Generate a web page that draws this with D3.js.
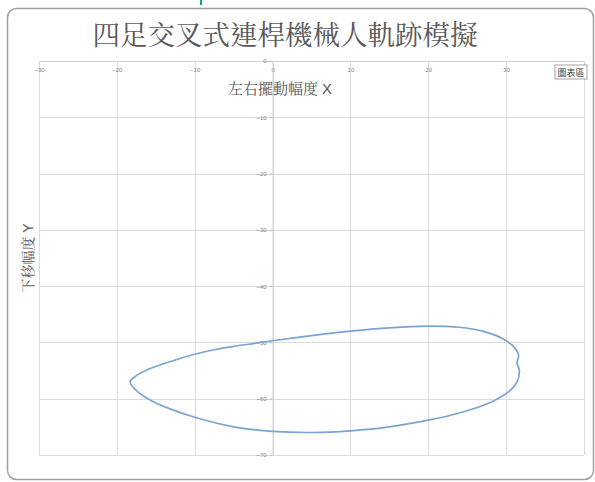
<!DOCTYPE html>
<html lang="zh-Hant">
<head>
    <meta charset="UTF-8">
    <title>四足交叉式連桿機械人軌跡模擬</title>
    <script src="https://cdn.jsdelivr.net/npm/d3@7"></script>
    <style>
        body{
            margin: 0;
            background: #fff;
        }
        .grid line{
            stroke: #dcdcdc;
            stroke-width: 1;
            shape-rendering: crispEdges;
        }
        .tick-label{
            font-family: Arial, 'Liberation Sans', sans-serif;
            font-size: 6px;
            fill: #7f7f7f;
        }
        .cjk{
            font-family: 'Noto Serif CJK TC', 'Noto Sans CJK TC', serif;
            fill: #595959;
        }
        .axis-title{
            font-family: 'Liberation Sans', 'Noto Serif CJK TC', 'Noto Sans CJK TC', serif;
            fill: #595959;
        }
    </style>
</head>
<body>
    <div id="container"></div>
</body>
</html>
<script>
    // 軌跡點 (左右擺動 X, 下移 Y)，從左端尖點開始沿上緣往右再沿下緣回來
    var trackX = [-18.3, -17.5, -16, -14, -12, -10, -7.5, -5, -2.5, 0, 5, 10, 15, 20, 24, 27, 29.5, 31, 31.6,
                  31.4, 31.7, 31.4, 30.3, 28.5, 26, 23, 20, 15, 10, 5, 0, -5, -10, -13, -15.5, -17.3]
    var trackY = [-57.0, -55.9, -54.8, -53.8, -52.9, -52.1, -51.3, -50.7, -50.2, -49.7, -48.8, -48.0, -47.4, -47.1, -47.3, -48.0, -49.3, -50.8, -52.3,
                  -53.6, -55.0, -57.0, -58.8, -60.3, -61.7, -62.9, -63.8, -65.0, -65.7, -66.0, -65.8, -65.0, -63.3, -61.9, -60.4, -58.8]
    var xTicks = [-30, -20, -10, 0, 10, 20, 30, 40]
    var yTicks = [0, -10, -20, -30, -40, -50, -60, -70]
    var xLabels = [-30, -20, -10, 0, 10, 20, 30]
    var yLabels = [0, -10, -20, -30, -40, -50, -60, -70]
    var title = "四足交叉式連桿機械人軌跡模擬"
    var xTitle = "左右擺動幅度 X"
    var yTitle = "下移幅度 Y"

    let width = 595
    let height = 482

    let svg = d3.select("#container")
        .append("svg")
        .attr("width", width)
        .attr("height", height)

    // 小綠標記（截圖上方）
    svg.append("rect")
        .attr("x", 200).attr("y", 0)
        .attr("width", 2).attr("height", 5)
        .attr("fill", "#21a366")

    // 圖表區外框
    svg.append("rect")
        .attr("x", 7.5).attr("y", 8.5)
        .attr("width", 586).attr("height", 471)
        .attr("rx", 9)
        .attr("fill", "#fff")
        .attr("stroke", "#a0a0a0")
        .attr("stroke-width", 1.5)

    // 標尺
    let xScale = d3.scaleLinear()
        .domain([-30, 40])
        .range([39, 584])

    let yScale = d3.scaleLinear()
        .domain([0, -70])
        .range([61, 455])

    // 格線
    let grid = svg.append("g").attr("class", "grid")
    grid.selectAll(".vx")
        .data(xTicks)
        .enter()
        .append("line")
        .attr("x1", d => Math.round(xScale(d)) + 0.5)
        .attr("x2", d => Math.round(xScale(d)) + 0.5)
        .attr("y1", yScale(0))
        .attr("y2", yScale(-70))
    grid.selectAll(".hy")
        .data(yTicks)
        .enter()
        .append("line")
        .attr("x1", xScale(-30))
        .attr("x2", xScale(40))
        .attr("y1", d => Math.round(yScale(d)) + 0.5)
        .attr("y2", d => Math.round(yScale(d)) + 0.5)

    // 座標軸 (X 軸在 y=0，Y 軸在 x=0)
    let xAxis = d3.axisBottom(xScale)
        .tickValues(xLabels)
        .tickSize(0)
        .tickPadding(7)
    let gx = svg.append("g")
        .attr("transform", "translate(0," + yScale(0) + ")")
        .call(xAxis)
    gx.select(".domain").attr("stroke", "#cfcfcf")
    gx.selectAll("text").attr("class", "tick-label")

    let yAxis = d3.axisLeft(yScale)
        .tickValues(yLabels)
        .tickSize(3)
        .tickPadding(3)
    let gy = svg.append("g")
        .attr("transform", "translate(" + xScale(0) + ",0)")
        .call(yAxis)
    gy.select(".domain").attr("stroke", "#cfcfcf")
    gy.selectAll(".tick line").attr("stroke", "#bfbfbf")
    gy.selectAll("text").attr("class", "tick-label")

    // 軌跡曲線
    let pts = trackX.map((x, i) => [x, trackY[i]])
    let line = d3.line()
        .x(d => xScale(d[0]))
        .y(d => yScale(d[1]))
        .curve(d3.curveCatmullRomClosed.alpha(0.5))
    svg.append("path")
        .datum(pts)
        .attr("d", line)
        .attr("fill", "none")
        .attr("stroke", "#78a4d6")
        .attr("stroke-width", 1.7)

    // 標題
    svg.append("text")
        .attr("class", "cjk")
        .attr("x", 285)
        .attr("y", 45)
        .attr("text-anchor", "middle")
        .attr("font-size", 27.5)
        .text(title)

    svg.append("text")
        .attr("class", "axis-title")
        .attr("x", 280)
        .attr("y", 94)
        .attr("text-anchor", "middle")
        .attr("font-size", 15)
        .text(xTitle)

    svg.append("text")
        .attr("class", "axis-title")
        .attr("transform", "translate(33,258) rotate(-90)")
        .attr("text-anchor", "middle")
        .attr("font-size", 14)
        .text(yTitle)

    // 圖表區 提示框
    let tip = svg.append("g").attr("transform", "translate(555,65)")
    tip.append("rect")
        .attr("width", 32).attr("height", 14)
        .attr("fill", "#fff")
        .attr("stroke", "#8a8a8a")
        .attr("stroke-width", 0.8)
    tip.append("text")
        .attr("x", 16).attr("y", 10.5)
        .attr("text-anchor", "middle")
        .attr("font-size", 9)
        .attr("font-family", "'Noto Sans CJK TC', sans-serif")
        .attr("fill", "#404040")
        .text("圖表區")
</script>
